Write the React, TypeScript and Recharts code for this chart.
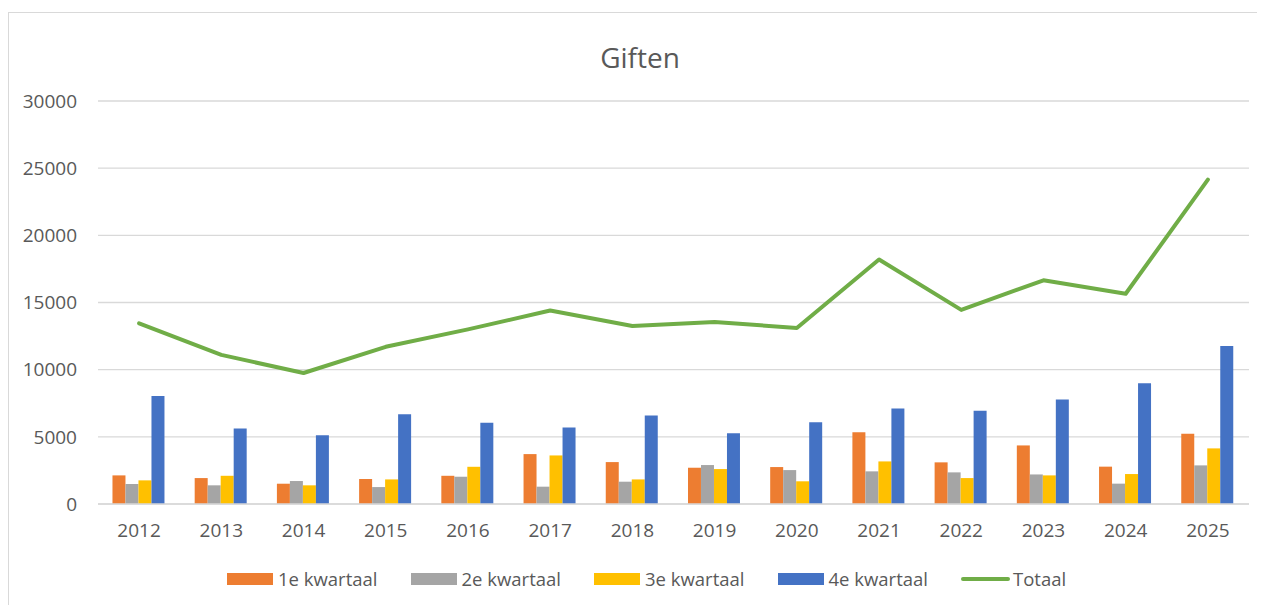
import { Bar, CartesianGrid, ComposedChart, Line, XAxis, YAxis } from 'recharts';

const years = ['2012', '2013', '2014', '2015', '2016', '2017', '2018', '2019', '2020', '2021', '2022', '2023', '2024', '2025'];
const kwartaal1 = [2130, 1930, 1510, 1860, 2100, 3715, 3120, 2700, 2750, 5350, 3100, 4360, 2780, 5230];
const kwartaal2 = [1490, 1390, 1710, 1260, 2030, 1290, 1660, 2900, 2525, 2430, 2355, 2200, 1515, 2875];
const kwartaal3 = [1760, 2100, 1390, 1830, 2770, 3615, 1830, 2600, 1690, 3170, 1930, 2130, 2230, 4140];
const kwartaal4 = [8045, 5620, 5125, 6685, 6040, 5695, 6590, 5275, 6090, 7110, 6935, 7780, 8990, 11770];
const totaal = [13450, 11100, 9750, 11700, 13000, 14400, 13250, 13550, 13100, 18200, 14450, 16650, 15650, 24150];
const yTicks = [0, 5000, 10000, 15000, 20000, 25000, 30000];

const data = years.map((jaar, i) => ({
  jaar,
  q1: kwartaal1[i],
  q2: kwartaal2[i],
  q3: kwartaal3[i],
  q4: kwartaal4[i],
  totaal: totaal[i]
}));

const FONT = '"Open Sans", sans-serif';
const TEXT = '#595959';
const GRID = '#d9d9d9';

const legendItems = [
  { label: '1e kwartaal', color: '#ed7d31', line: false },
  { label: '2e kwartaal', color: '#a5a5a5', line: false },
  { label: '3e kwartaal', color: '#ffc000', line: false },
  { label: '4e kwartaal', color: '#4472c4', line: false },
  { label: 'Totaal', color: '#70ad47', line: true }
];

function Legenda() {
  return (
    <div
      style={{
        position: 'absolute',
        top: 553,
        left: 218,
        display: 'flex',
        alignItems: 'center',
        gap: 33,
        height: 26,
        fontFamily: FONT,
        fontSize: 18.5,
        lineHeight: '26px',
        color: TEXT,
        whiteSpace: 'nowrap'
      }}
    >
      {legendItems.map((item) => (
        <div key={item.label} style={{ display: 'flex', alignItems: 'center' }}>
          {item.line ? (
            <span style={{ width: 49, height: 4, borderRadius: 2, background: item.color, marginRight: 3 }} />
          ) : (
            <span style={{ width: 46, height: 12, background: item.color, marginRight: 5 }} />
          )}
          <span>{item.label}</span>
        </div>
      ))}
    </div>
  );
}

export default function App() {
  return (
    <div style={{ position: 'relative', width: 1249, height: 597 }}>
      <div
        style={{
          position: 'absolute',
          top: 4,
          left: 0,
          width: 1250,
          height: 610,
          boxSizing: 'border-box',
          border: `1px solid ${GRID}`,
          background: '#fff'
        }}
      >
        <div
          style={{
            position: 'absolute',
            top: 30,
            left: 631,
            transform: 'translateX(-50%)',
            fontFamily: FONT,
            fontSize: 28,
            lineHeight: '28px',
            color: TEXT
          }}
        >
          Giften
        </div>
        <ComposedChart
          width={1248}
          height={590}
          data={data}
          margin={{ top: 88, right: 8, left: 0, bottom: 0 }}
          barCategoryGap="17.6%"
          barGap={0}
        >
          <CartesianGrid vertical={false} stroke={GRID} strokeWidth={1.3} />
          <XAxis
            dataKey="jaar"
            height={99}
            axisLine={{ stroke: GRID, strokeWidth: 1.3 }}
            tickLine={false}
            tickSize={0}
            tickMargin={20}
            tick={{ fill: TEXT, fontSize: 19, fontFamily: FONT }}
          />
          <YAxis
            width={89}
            domain={[0, 30000]}
            ticks={yTicks}
            axisLine={false}
            tickLine={false}
            tickSize={0}
            tickMargin={21}
            tick={{ fill: TEXT, fontSize: 19, fontFamily: FONT }}
          />
          <Bar dataKey="q1" name="1e kwartaal" fill="#ed7d31" isAnimationActive={false} />
          <Bar dataKey="q2" name="2e kwartaal" fill="#a5a5a5" isAnimationActive={false} />
          <Bar dataKey="q3" name="3e kwartaal" fill="#ffc000" isAnimationActive={false} />
          <Bar dataKey="q4" name="4e kwartaal" fill="#4472c4" isAnimationActive={false} />
          <Line
            type="linear"
            dataKey="totaal"
            name="Totaal"
            stroke="#70ad47"
            strokeWidth={4}
            strokeLinecap="round"
            strokeLinejoin="round"
            dot={false}
            isAnimationActive={false}
          />
        </ComposedChart>
        <Legenda />
      </div>
    </div>
  );
}
